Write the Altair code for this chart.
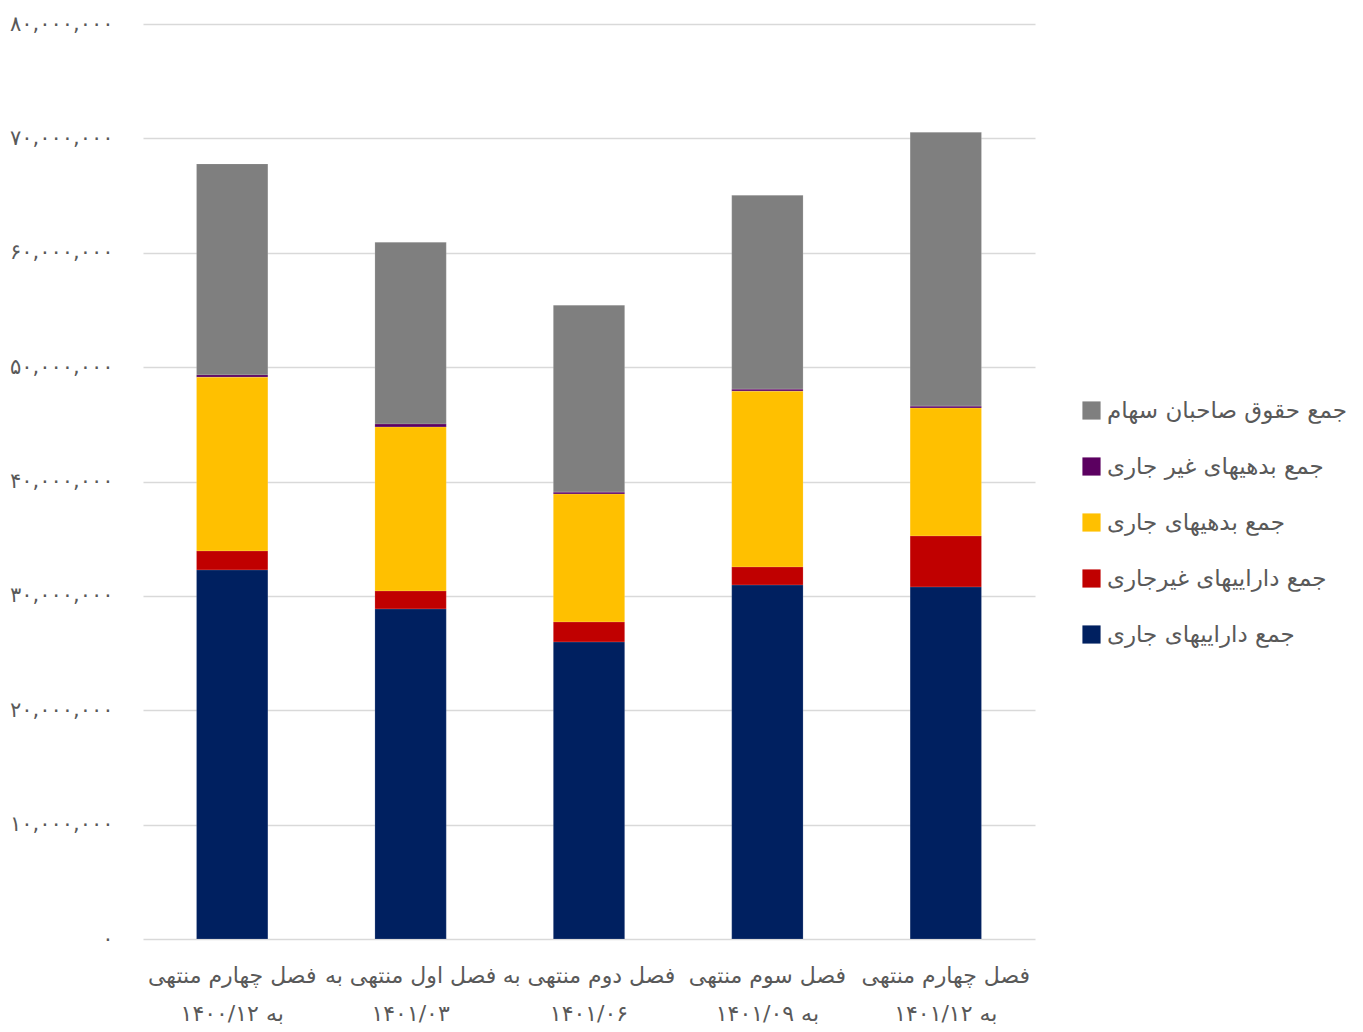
import altair as alt
import pandas as pd

categories = [
    "فصل چهارم منتهی\nبه ۱۴۰۰/۱۲",
    "فصل اول منتهی به\n۱۴۰۱/۰۳",
    "فصل دوم منتهی به\n۱۴۰۱/۰۶",
    "فصل سوم منتهی\nبه ۱۴۰۱/۰۹",
    "فصل چهارم منتهی\nبه ۱۴۰۱/۱۲",
]

series = [
    "جمع حقوق صاحبان سهام",
    "جمع بدهیهای غیر جاری",
    "جمع بدهیهای جاری",
    "جمع داراییهای غیرجاری",
    "جمع داراییهای جاری",
]
colors = ["#7f7f7f", "#5b0060", "#ffc000", "#c00000", "#002060"]

equity = [18450000, 15900000, 16350000, 16950000, 23940000]
noncurrent_liab = [200000, 260000, 170000, 170000, 170000]
current_liab = [15200000, 14340000, 11190000, 15380000, 11190000]
noncurrent_assets = [1660000, 1570000, 1750000, 1580000, 4460000]
current_assets = [32260000, 28850000, 25960000, 30940000, 30770000]

y_tick_values = [0, 10000000, 20000000, 30000000, 40000000, 50000000, 60000000, 70000000, 80000000]
y_tick_labels = ["۰", "۱۰,۰۰۰,۰۰۰", "۲۰,۰۰۰,۰۰۰", "۳۰,۰۰۰,۰۰۰", "۴۰,۰۰۰,۰۰۰",
                 "۵۰,۰۰۰,۰۰۰", "۶۰,۰۰۰,۰۰۰", "۷۰,۰۰۰,۰۰۰", "۸۰,۰۰۰,۰۰۰"]

values_by_series = [equity, noncurrent_liab, current_liab, noncurrent_assets, current_assets]
rows = []
for si, (name, vals) in enumerate(zip(series, values_by_series)):
    for c, v in zip(categories, vals):
        rows.append({"category": c, "series": name, "value": v, "stack_order": len(series) - 1 - si})
df = pd.DataFrame(rows)

label_expr = "''"
for v, l in zip(reversed(y_tick_values), reversed(y_tick_labels)):
    label_expr = f"datum.value == {v} ? '{l}' : ({label_expr})"

FONT = "DejaVu Sans"
TXT = "#595959"

chart = alt.Chart(df).mark_bar(stroke="#ffffff", strokeWidth=0.5, strokeOpacity=0.3).encode(
    x=alt.X("category:N", sort=categories, title=None,
            scale=alt.Scale(paddingInner=0.6, paddingOuter=0.3),
            axis=alt.Axis(labelExpr="split(datum.value, '\\n')", labelAngle=0,
                          labelFontSize=22, labelLineHeight=38, labelColor=TXT, labelFont=FONT,
                          labelLimit=0, labelOverlap=False, labelPadding=26,
                          ticks=False, domain=False)),
    y=alt.Y("value:Q", title=None, stack="zero",
            scale=alt.Scale(domain=[0, 80000000], nice=False),
            axis=alt.Axis(values=y_tick_values, labelExpr=label_expr, labelFontSize=21,
                          labelColor=TXT, labelFont=FONT, labelPadding=30,
                          ticks=False, domain=False, gridColor="#d9d9d9", gridWidth=1.5)),
    color=alt.Color("series:N", sort=series,
                    scale=alt.Scale(domain=series, range=colors),
                    legend=alt.Legend(title=None, orient="none", legendX=937, legendY=375,
                                      symbolType="square", symbolSize=330, symbolStrokeWidth=0,
                                      labelFontSize=23, labelColor=TXT, labelFont=FONT,
                                      rowPadding=32, labelLimit=400)),
    order=alt.Order("stack_order:Q", sort="ascending"),
).properties(width=892, height=915, padding={"left": 1, "top": 5, "right": 0, "bottom": 0}
).configure_view(stroke=None)

chart.save("out.html", embed_options={"renderer": "svg", "actions": False})
